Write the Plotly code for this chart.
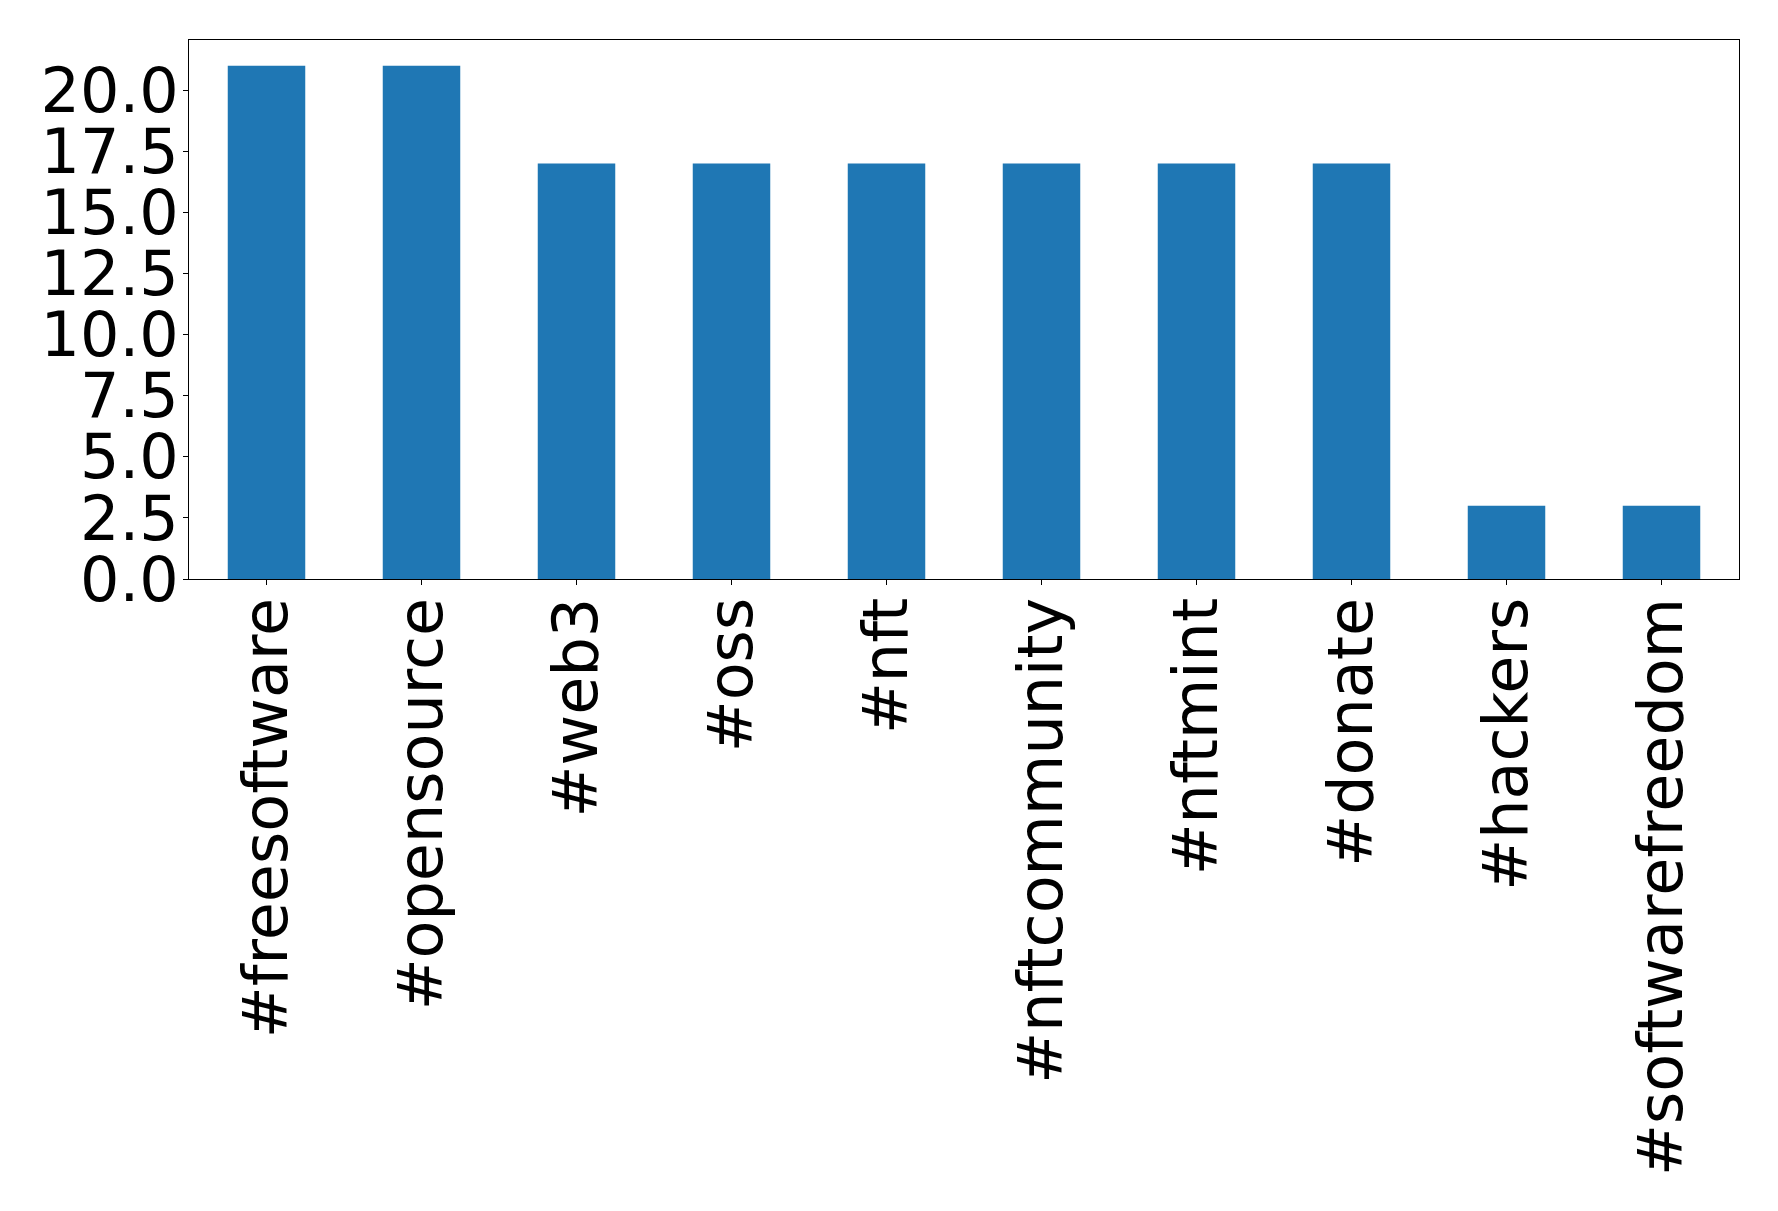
import plotly.graph_objects as go

categories = ["#freesoftware", "#opensource", "#web3", "#oss", "#nft",
              "#nftcommunity", "#nftmint", "#donate", "#hackers", "#softwarefreedom"]
values = [21, 21, 17, 17, 17, 17, 17, 17, 3, 3]
y_ticks = [0, 2.5, 5, 7.5, 10, 12.5, 15, 17.5, 20]

fig = go.Figure(go.Bar(x=list(range(len(categories))), y=values,
                       marker=dict(color="#1f77b4", line=dict(width=0)),
                       width=0.5))

font = dict(family="DejaVu Sans", size=62, color="black")
fig.update_layout(
    width=1778, height=1211,
    margin=dict(l=181, r=47, t=32, b=640, autoexpand=False),
    paper_bgcolor="white", plot_bgcolor="white",
    showlegend=False, font=font,
)
fig.update_xaxes(range=[-0.5, len(categories) - 0.5], tickmode="array",
                 tickvals=list(range(len(categories))), ticktext=categories,
                 tickangle=-90, ticks="outside", ticklen=5, tickcolor="black",
                 ticklabelstandoff=-12,
                 showline=True, linecolor="black", linewidth=1, mirror=True,
                 showgrid=False, zeroline=False, tickfont=font, automargin=False)
fig.update_yaxes(range=[0, 22.05], tickmode="array", tickvals=y_ticks,
                 ticktext=[f"{v:.1f}" for v in y_ticks],
                 ticks="outside", ticklen=5, tickcolor="black",
                 ticklabelstandoff=-8,
                 showline=True, linecolor="black", linewidth=1, mirror=True,
                 showgrid=False, zeroline=False, tickfont=font, automargin=False)
fig.write_html("out.html")
